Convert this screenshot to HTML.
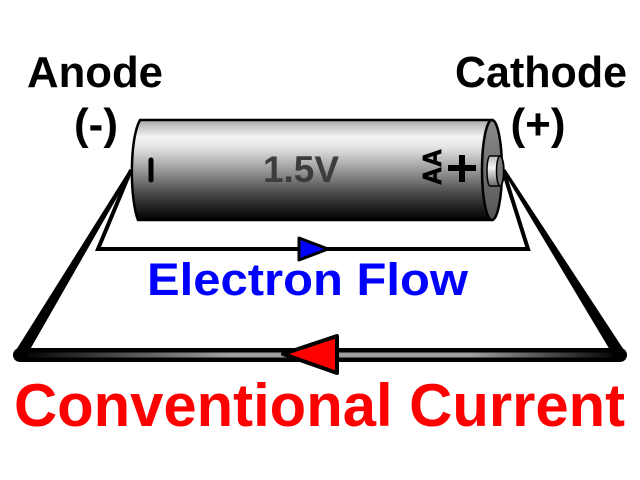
<!DOCTYPE html>
<html><head><meta charset="utf-8">
<style>
html,body{margin:0;padding:0;background:#fff;}
svg{display:block;}
text{font-family:"Liberation Sans",Arial,sans-serif;font-weight:bold;}
</style></head>
<body>
<svg width="640" height="480" viewBox="0 0 640 480" xmlns="http://www.w3.org/2000/svg">
<defs>
<linearGradient id="body" x1="0" y1="120" x2="0" y2="220" gradientUnits="userSpaceOnUse">
<stop offset="0" stop-color="#a8a8a8"/>
<stop offset="0.17" stop-color="#f4f4f4"/>
<stop offset="0.28" stop-color="#e2e2e2"/>
<stop offset="0.5" stop-color="#9a9a9a"/>
<stop offset="0.75" stop-color="#444"/>
<stop offset="1" stop-color="#000"/>
</linearGradient>
<linearGradient id="cap" x1="0" y1="120" x2="0" y2="220" gradientUnits="userSpaceOnUse">
<stop offset="0" stop-color="#8a8a8a"/>
<stop offset="1" stop-color="#555"/>
</linearGradient>
<linearGradient id="nub" x1="0" y1="156" x2="0" y2="186" gradientUnits="userSpaceOnUse">
<stop offset="0" stop-color="#bbb"/>
<stop offset="0.4" stop-color="#f4f4f4"/>
<stop offset="1" stop-color="#666"/>
</linearGradient>
<linearGradient id="wire" x1="20" y1="0" x2="620" y2="0" gradientUnits="userSpaceOnUse">
<stop offset="0" stop-color="#000"/>
<stop offset="0.35" stop-color="#a0a0a0"/>
<stop offset="0.75" stop-color="#a0a0a0"/>
<stop offset="1" stop-color="#000"/>
</linearGradient>
</defs>

<!-- Outer wire (conventional current) -->
<line x1="20" y1="355" x2="620" y2="355" stroke="#000" stroke-width="14" stroke-linecap="round"/>
<polygon points="132.3,170.8 129.7,169.2 14.9,351.9 25.1,358.1" fill="#000"/>
<polygon points="505.3,169.2 502.7,170.8 614.9,358.2 625.1,351.8" fill="#000"/>
<line x1="28" y1="355" x2="612" y2="355" stroke="url(#wire)" stroke-width="5"/>

<!-- Inner wire (electron flow) -->
<polyline points="131,170 98,249 528,249 503,170" fill="none" stroke="#000" stroke-width="4" stroke-linejoin="miter"/>

<!-- Blue arrow -->
<polygon points="299,238 299,260 328,249" fill="#0000ff" stroke="#000" stroke-width="3" stroke-linejoin="round"/>

<!-- Red arrow -->
<polygon points="337,336 337,373 283,354" fill="#ff0000" stroke="#000" stroke-width="4" stroke-linejoin="round"/>

<!-- Battery body -->
<path d="M140,120 L492,120 L492,220 L138,220 C130,200 129,140 140,120 Z" fill="url(#body)" stroke="#000" stroke-width="2.5"/>
<ellipse cx="492" cy="170" rx="10" ry="50" fill="url(#cap)" stroke="#000" stroke-width="2.5"/>
<!-- Nub -->
<path d="M490,156 L500,156 A4,15 0 0 1 500,186 L490,186 A3,15 0 0 1 490,156 Z" fill="url(#nub)" stroke="#000" stroke-width="1.5"/>
<ellipse cx="500" cy="171" rx="3.5" ry="15" fill="#777" stroke="#000" stroke-width="1.5"/>

<!-- Battery markings -->
<line x1="151" y1="160" x2="151" y2="180" stroke="#000" stroke-width="5" stroke-linecap="round"/>
<text x="263" y="182" font-size="37" fill="#3c3c3c" textLength="76" lengthAdjust="spacingAndGlyphs">1.5V</text>
<text transform="translate(441,185) rotate(-90)" font-size="26" fill="#000" stroke="#000" stroke-width="0.8" textLength="36" lengthAdjust="spacingAndGlyphs">AA</text>
<rect x="448" y="165" width="28" height="6" fill="#000"/>
<rect x="459" y="155" width="6" height="27" fill="#000"/>

<!-- Labels -->
<text x="27" y="87" font-size="44" fill="#000" textLength="136" lengthAdjust="spacingAndGlyphs">Anode</text>
<text x="96" y="139" font-size="44" fill="#000" text-anchor="middle">(-)</text>
<text x="455" y="87" font-size="44" fill="#000" textLength="172" lengthAdjust="spacingAndGlyphs">Cathode</text>
<text x="538" y="139" font-size="44" fill="#000" text-anchor="middle">(+)</text>
<text x="147" y="295" font-size="45" fill="#0000ff" textLength="321" lengthAdjust="spacingAndGlyphs">Electron Flow</text>
<text x="14" y="426" font-size="60" fill="#ff0000" textLength="611" lengthAdjust="spacingAndGlyphs">Conventional Current</text>
</svg>
</body></html>
